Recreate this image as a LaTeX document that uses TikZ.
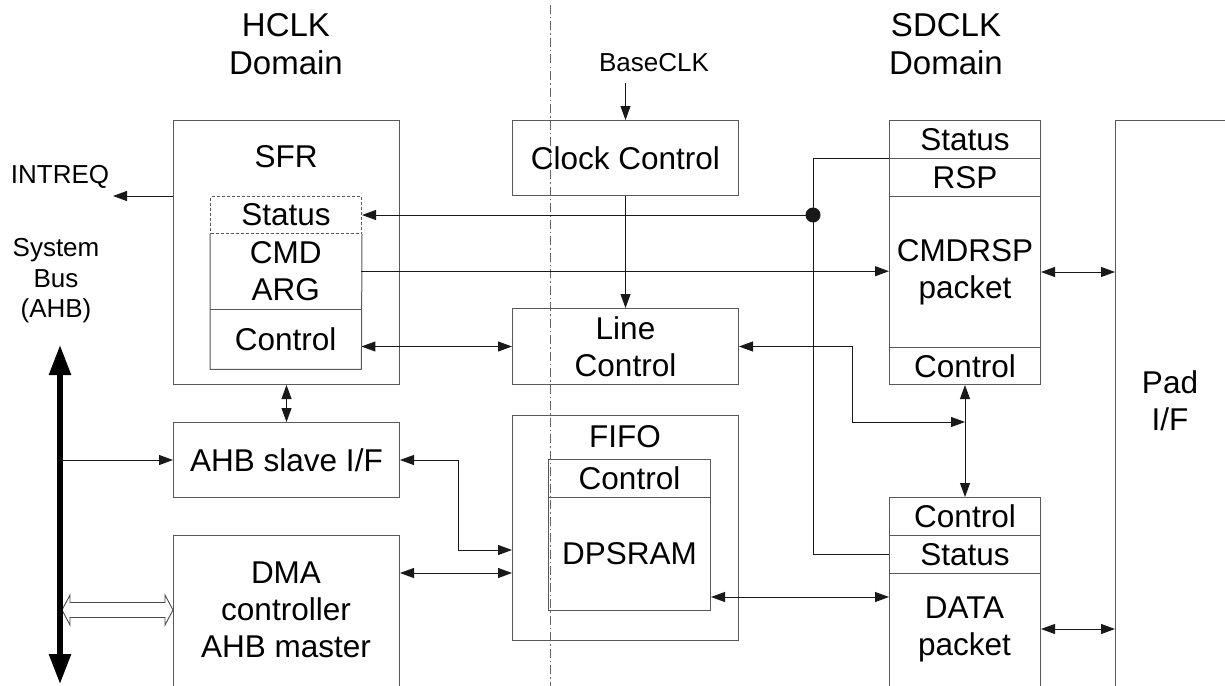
\documentclass[tikz,border=0pt]{standalone}
\usepackage{fontspec}
\setmainfont{Liberation Sans}
\usetikzlibrary{arrows.meta,calc}
\newcommand\bxfont{\fontsize{31.5}{37}\selectfont}
\newcommand\smfont{\fontsize{26}{30.5}\selectfont}
\newcommand\dmfont{\fontsize{33}{38}\selectfont}
\begin{document}
\begin{tikzpicture}[x=1pt,y=-1pt,
  box/.style={draw=black!65, line width=1pt, inner sep=0pt, anchor=north west, font=\bxfont, align=center},
  cell/.style={inner sep=0pt, anchor=north west, font=\bxfont, align=center},
  lbl/.style={inner sep=0pt, font=\bxfont, align=center},
  sm/.style={inner sep=0pt, font=\smfont, align=center},
  dom/.style={inner sep=0pt, font=\dmfont, align=center},
  con/.style={draw=black!90, line width=0.9pt},
  arr/.style={-{Triangle[length=14pt,width=10pt]}},
  darr/.style={{Triangle[length=14pt,width=10pt]}-{Triangle[length=14pt,width=10pt]}},
]
\useasboundingbox (0,0) rectangle (1225,685);
\clip (0,0) rectangle (1225,685);

% domain labels and separator
\node[dom] (hclk) at (286,44) {HCLK\\Domain};
\node[dom] (sdclk) at (946,44) {SDCLK\\Domain};
\coordinate (dtop) at (550,5);
\coordinate (dbot) at (550,690);
\draw[draw=black!60, line width=0.8pt, dash pattern=on 9pt off 3pt on 1.5pt off 3pt] (dtop) -- (dbot);

% SFR
\node[box, minimum width=226, minimum height=264] (sfr) at (173,120) {};
\node[lbl] (sfrlbl) at (286,157) {SFR};
\node[box, dash pattern=on 3pt off 2pt, minimum width=151, minimum height=37] (sfrst) at (210,196) {Status};
\node[cell, minimum width=151, minimum height=76] (sfrcmd) at (210,233) {CMD\\ARG};
\node[cell, minimum width=151, minimum height=60] (sfrctl) at (210,309) {Control};
\draw[draw=black!65, line width=1pt] (sfrst.south west) -- (sfrctl.south west) -- (sfrctl.south east) -- (sfrst.south east);
\draw[draw=black!65, line width=1pt] (sfrctl.north west) -- (sfrctl.north east);

% left column
\node[box, minimum width=226, minimum height=75] (ahb) at (173,422) {AHB slave I/F};
\node[box, minimum width=226, minimum height=200] (dma) at (173,535) {};
\node[lbl] (dmalbl) at (286,610) {DMA\\controller\\AHB master};

% middle column
\node[sm] (baseclk) at (654,63) {BaseCLK};
\node[box, minimum width=226, minimum height=75] (clock) at (512,120) {Clock Control};
\node[box, minimum width=226, minimum height=76] (line) at (512,308) {Line\\Control};
\node[box, minimum width=226, minimum height=225] (fifo) at (512,415) {};
\node[lbl] (fifolbl) at (625,437) {FIFO};
\node[box, minimum width=162, minimum height=38] (fifoctl) at (548,459) {Control};
\node[box, minimum width=162, minimum height=113] (dpsram) at (548,497) {DPSRAM};

% right column
\node[box, minimum width=151, minimum height=38] (cst) at (889,120) {Status};
\node[box, minimum width=151, minimum height=38] (crsp) at (889,158) {RSP};
\node[box, minimum width=151, minimum height=151] (cbody) at (889,196) {CMDRSP\\packet};
\node[box, minimum width=151, minimum height=37] (cctl) at (889,347) {Control};
\node[box, minimum width=151, minimum height=38] (dctl) at (889,497) {Control};
\node[box, minimum width=151, minimum height=38] (dst) at (889,535) {Status};
\node[box, minimum width=151, minimum height=160] (dbody) at (889,573) {};
\node[lbl] (dbodylbl) at (964.5,629) {DATA\\packet};
\node[box, minimum width=200, minimum height=600] (pad) at (1115,120) {};
\node[lbl] (padlbl) at (1170,401) {Pad\\I/F};

% left labels
\node[sm] (intreqlbl) at (60,177) {INTREQ};
\node[sm] (buslbl) at (56,281) {System\\Bus\\(AHB)};

% system bus
\coordinate (bustop) at (60,345);
\coordinate (busbot) at (60,684);
\coordinate (busx) at (60,0);
\coordinate (hl) at (62,610);
\coordinate (hr) at (dma.west |- hl);
\draw[draw=black!70, fill=white, line width=0.9pt] (hl) -- ++(8,-15) -- ++(0,7.5) -- ($(hr)+(-8,-7.5)$) -- ++(0,-7.5) -- (hr) -- ++(-8,15) -- ++(0,-7.5) -- ($(hl)+(8,7.5)$) -- ++(0,7.5) -- cycle;
\draw[line width=5.5pt, {Triangle[length=30pt,width=21pt]}-{Triangle[length=30pt,width=21pt]}] (bustop) -- (busbot);

% connectors
\coordinate (intreq) at (113,196);
\draw[con,arr] (sfr.west |- sfrst.north) -- (intreq);
\coordinate (bclk) at ($(clock.north)+(0,-37)$);
\draw[con,arr] (bclk) -- (clock.north);
\draw[con,arr] (clock.south) -- (line.north);

\coordinate (jx) at (813,0);
\node[circle, fill=black!90, inner sep=0pt, minimum size=15] (dot) at (sfrst.east -| jx) {};
\draw[con,arr] (dot.center) -- (sfrst.east);
\draw[con] (dst.west) -| (jx |- crsp.north) -- (crsp.north west);

\draw[con,arr] (sfrcmd.east) -- (sfrcmd.east -| cbody.west);
\draw[con,darr] (cbody.east) -- (cbody.east -| pad.west);
\draw[con,darr] (sfrctl.east |- line.west) -- (line.west);
\coordinate (bend) at (852,422);
\draw[con,darr] (line.east) -| (bend) -- (cctl.south |- bend);
\draw[con,darr] (cctl.south) -- (dctl.north);

\draw[con,darr] (sfr.south) -- (ahb.north);
\draw[con,arr] (busx |- ahb.west) -- (ahb.west);
\coordinate (ab) at (458,550);
\draw[con,darr] (ahb.east) -| (ab) -- (fifo.west |- ab);
\coordinate (dm) at ($(dma.north east)+(0,38)$);
\draw[con,darr] (dm) -- (fifo.west |- dm);
\coordinate (dp) at ($(dpsram.south east)+(0,-14)$);
\draw[con,darr] (dp) -- (dp -| dbody.west);
\coordinate (dd) at ($(dbody.north east)+(0,56)$);
\draw[con,darr] (dd) -- (dd -| pad.west);
\end{tikzpicture}
\end{document}
